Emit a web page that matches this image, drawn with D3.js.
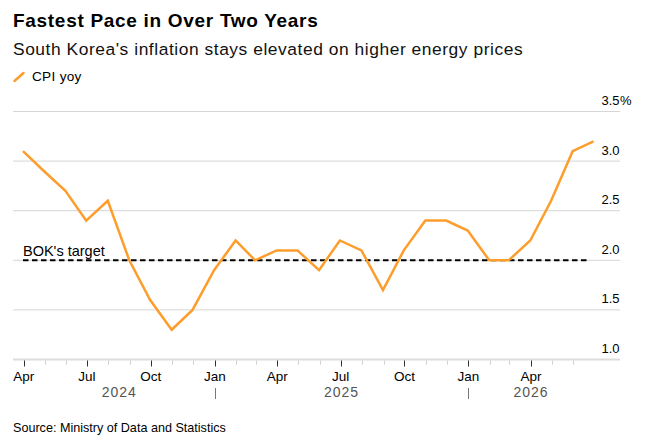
<!DOCTYPE html>
<html>
<head>
<meta charset="utf-8">
<script src="https://cdn.jsdelivr.net/npm/d3@7"></script>
<style>
  body { margin: 0; background: #fff; }
  svg { display: block; font-family: "Liberation Sans", Arial, Helvetica, sans-serif; }
</style>
</head>
<body>
<svg id="chart"></svg>
<script>
// Data: month of reading, CPI year-on-year %
const months = [
  "2024-03", "2024-04", "2024-05", "2024-06", "2024-07", "2024-08", "2024-09",
  "2024-10", "2024-11", "2024-12", "2025-01", "2025-02", "2025-03", "2025-04",
  "2025-05", "2025-06", "2025-07", "2025-08", "2025-09", "2025-10", "2025-11",
  "2025-12", "2026-01", "2026-02", "2026-03", "2026-04", "2026-05", "2026-06"
];
const cpiYoy = [
  3.1, 2.9, 2.7, 2.4, 2.6, 2.0, 1.6,
  1.3, 1.5, 1.9, 2.2, 2.0, 2.1, 2.1,
  1.9, 2.2, 2.1, 1.7, 2.1, 2.4, 2.4,
  2.3, 2.0, 2.0, 2.2, 2.6, 3.1, 3.2
];
const bokTarget = 2.0;
const yTicks = [1.0, 1.5, 2.0, 2.5, 3.0, 3.5];
const years = [2024, 2025, 2026];

const width = 648;
const height = 447;
const orange = "#fd9d2b";

const parseMonth = d3.timeParse("%Y-%m");
// readings are stamped at month end
const data = months.map((m, i) => ({
  date: d3.timeDay.offset(d3.timeMonth.offset(parseMonth(m), 1), -1),
  value: cpiYoy[i]
}));

const gridLeft = 13, gridRight = 620;
const x = d3.scaleTime()
  .domain(d3.extent(data, d => d.date))
  .range([23, 593.5]);
const y = d3.scaleLinear()
  .domain([1, 3.5])
  .range([359.5, 111.5]);

const svg = d3.select("#chart")
  .attr("width", width)
  .attr("height", height)
  .attr("viewBox", [0, 0, width, height]);

// Header
svg.append("text")
  .attr("x", 13).attr("y", 27)
  .attr("font-size", 19).attr("font-weight", "bold")
  .attr("letter-spacing", 0.7)
  .attr("fill", "#000")
  .text("Fastest Pace in Over Two Years");
svg.append("text")
  .attr("x", 13).attr("y", 55)
  .attr("font-size", 17.4)
  .attr("letter-spacing", 0.55)
  .attr("fill", "#111")
  .text("South Korea's inflation stays elevated on higher energy prices");

// Legend
svg.append("line")
  .attr("x1", 14.5).attr("y1", 81)
  .attr("x2", 23.5).attr("y2", 73)
  .attr("stroke", orange).attr("stroke-width", 2.5)
  .attr("stroke-linecap", "round");
svg.append("text")
  .attr("x", 32).attr("y", 80.5)
  .attr("font-size", 13.6)
  .attr("letter-spacing", 0.3)
  .text("CPI yoy");

// Gridlines
svg.append("g")
  .selectAll("line")
  .data(yTicks.filter(d => d > 1))
  .join("line")
  .attr("x1", gridLeft).attr("x2", gridRight)
  .attr("y1", d => y(d)).attr("y2", d => y(d))
  .attr("stroke", "#d6d6d6").attr("stroke-width", 1);

// Y labels (right-aligned, % hangs on top label)
const yLab = svg.append("g")
  .attr("font-size", 13)
  .attr("fill", "#000");
yLab.selectAll("text")
  .data(yTicks)
  .join("text")
  .attr("x", 619.5)
  .attr("y", d => y(d) - 6.5)
  .attr("text-anchor", "end")
  .text(d => d3.format(".1f")(d));
yLab.append("text")
  .attr("x", 620)
  .attr("y", y(3.5) - 6.5)
  .text("%");

// x axis
const monthTicks = d3.timeMonth.range(d3.timeMonth.ceil(x.domain()[0]), d3.timeMonth.ceil(x.domain()[1]));
const axis = svg.append("g");
axis.append("line")
  .attr("x1", gridLeft).attr("x2", gridRight)
  .attr("y1", y(1)).attr("y2", y(1))
  .attr("stroke", "#dcdcdc").attr("stroke-width", 2);
axis.selectAll("line.tick")
  .data(monthTicks)
  .join("line")
  .attr("class", "tick")
  .attr("x1", d => Math.round(x(d)) + 0.5).attr("x2", d => Math.round(x(d)) + 0.5)
  .attr("y1", y(1) + 1)
  .attr("y2", d => d.getMonth() % 3 === 0 ? y(1) + 7 : y(1) + 5)
  .attr("stroke", d => d.getMonth() % 3 === 0 ? "#333" : "#cfcfcf")
  .attr("stroke-width", 1);
axis.selectAll("text.mlab")
  .data(monthTicks.filter(d => d.getMonth() % 3 === 0))
  .join("text")
  .attr("class", "mlab")
  .attr("x", d => x(d))
  .attr("y", 381)
  .attr("text-anchor", "middle")
  .attr("font-size", 13.5)
  .attr("fill", "#000")
  .text(d3.timeFormat("%b"));

// year separators and labels
const yearStarts = years.slice(1).map(yr => new Date(yr, 0, 1));
axis.selectAll("line.ysep")
  .data(yearStarts)
  .join("line")
  .attr("class", "ysep")
  .attr("x1", d => Math.round(x(d)) + 0.5).attr("x2", d => Math.round(x(d)) + 0.5)
  .attr("y1", 388).attr("y2", 399)
  .attr("stroke", "#777").attr("stroke-width", 1);
axis.selectAll("text.ylab")
  .data(years)
  .join("text")
  .attr("class", "ylab")
  .attr("x", yr => {
    const a = d3.max([new Date(yr, 0, 1), d3.timeMonth.ceil(x.domain()[0])]);
    const b = d3.min([new Date(yr + 1, 0, 1), x.domain()[1]]);
    return (x(a) + x(b)) / 2;
  })
  .attr("y", 397)
  .attr("text-anchor", "middle")
  .attr("font-size", 14)
  .attr("letter-spacing", 1)
  .attr("fill", "#555")
  .text(yr => yr);

// BOK target
svg.append("line")
  .attr("x1", x.range()[0]).attr("x2", x.range()[1] - 4)
  .attr("y1", y(bokTarget)).attr("y2", y(bokTarget))
  .attr("stroke", "#000").attr("stroke-width", 2)
  .attr("stroke-dasharray", "5.5,3.5");
svg.append("text")
  .attr("x", 23).attr("y", y(bokTarget) - 4.5)
  .attr("font-size", 14.5)
  .attr("fill", "#000")
  .text("BOK's target");

// CPI line
const line = d3.line()
  .x(d => x(d.date))
  .y(d => y(d.value));
svg.append("path")
  .datum(data)
  .attr("fill", "none")
  .attr("stroke", orange)
  .attr("stroke-width", 2.5)
  .attr("stroke-linejoin", "miter")
  .attr("d", line);

// Source
svg.append("text")
  .attr("x", 13).attr("y", 432)
  .attr("font-size", 12.6)
  .attr("fill", "#000")
  .text("Source: Ministry of Data and Statistics");
</script>
</body>
</html>
